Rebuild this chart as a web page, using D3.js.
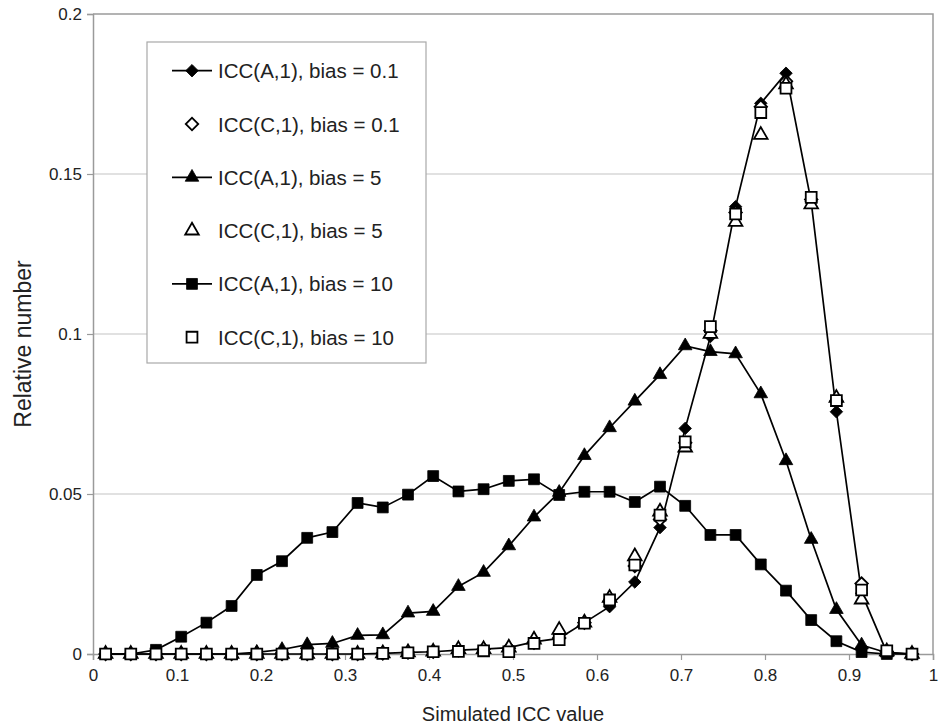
<!DOCTYPE html>
<html>
<head>
<meta charset="utf-8">
<script src="https://cdn.jsdelivr.net/npm/d3@7"></script>
<style>
  html, body { margin: 0; padding: 0; background: #fff; }
  svg text { font-family: "Liberation Sans", Arial, Helvetica, sans-serif; fill: #222; }
</style>
</head>
<body>
<svg id="chart" width="941" height="725"></svg>
<script>
// ---- data ----
const xValues = [0.015, 0.045, 0.075, 0.105, 0.135, 0.165, 0.195, 0.225, 0.255, 0.285, 0.315,
                 0.345, 0.375, 0.405, 0.435, 0.465, 0.495, 0.525, 0.555, 0.585, 0.615, 0.645,
                 0.675, 0.705, 0.735, 0.765, 0.795, 0.825, 0.855, 0.885, 0.915, 0.945, 0.975];

const iccA_bias01 = [0, 0, 0, 0, 0, 0, 0, 0, 0, 0, 0, 0.0002, 0.0005, 0.0007, 0.0012, 0.0015, 0.002,
                     0.0038, 0.0049, 0.0098, 0.0148, 0.0225, 0.0395, 0.0705, 0.0992, 0.1398, 0.1721,
                     0.1815, 0.1413, 0.0757, 0.019, 0.0005, 0];
const iccC_bias01 = [0, 0, 0, 0, 0, 0, 0, 0, 0, 0, 0, 0.0002, 0.0005, 0.0007, 0.0012, 0.0015, 0.0018,
                     0.0035, 0.005, 0.0098, 0.0165, 0.0275, 0.042, 0.066, 0.101, 0.138, 0.171,
                     0.179, 0.142, 0.079, 0.022, 0.0008, 0];
const iccA_bias5 = [0, 0, 0, 0, 0, 0, 0.0005, 0.0014, 0.0029, 0.0033, 0.0058, 0.006, 0.0128, 0.0133,
                    0.0211, 0.0255, 0.0338, 0.0428, 0.0505, 0.062, 0.0707, 0.079, 0.0873, 0.0963,
                    0.0945, 0.0938, 0.0813, 0.0604, 0.0358, 0.0139, 0.0028, 0.0004, 0];
const iccC_bias5 = [0, 0, 0, 0, 0, 0, 0, 0, 0, 0, 0, 0.0002, 0.0005, 0.0007, 0.0015, 0.0015, 0.002,
                    0.0045, 0.0075, 0.0098, 0.0175, 0.0305, 0.0445, 0.0645, 0.1, 0.135, 0.1622,
                    0.178, 0.1405, 0.08, 0.017, 0.0008, 0];
const iccA_bias10 = [0, 0, 0.0013, 0.0054, 0.0098, 0.015, 0.0247, 0.029, 0.0363, 0.0381, 0.0472,
                     0.0458, 0.0498, 0.0556, 0.0508, 0.0515, 0.0541, 0.0546, 0.0497, 0.0507, 0.0507,
                     0.0475, 0.0523, 0.0463, 0.0372, 0.0372, 0.028, 0.0198, 0.0106, 0.004, 0.0006, 0, 0];
const iccC_bias10 = [0, 0, 0, 0, 0, 0, 0, 0, 0, 0, 0, 0.0002, 0.0004, 0.0007, 0.0008, 0.001, 0.0007,
                     0.0033, 0.0045, 0.0096, 0.0169, 0.0278, 0.0434, 0.0663, 0.1023, 0.1375, 0.1692,
                     0.1768, 0.1427, 0.0792, 0.02, 0.001, 0];

const xTicks = [0, 0.1, 0.2, 0.3, 0.4, 0.5, 0.6, 0.7, 0.8, 0.9, 1];
const xTickLabels = ["0", "0.1", "0.2", "0.3", "0.4", "0.5", "0.6", "0.7", "0.8", "0.9", "1"];
const yTicks = [0, 0.05, 0.1, 0.15, 0.2];
const yTickLabels = ["0", "0.05", "0.1", "0.15", "0.2"];

const seriesNames = ["ICC(A,1), bias = 0.1", "ICC(C,1), bias = 0.1", "ICC(A,1), bias = 5",
                     "ICC(C,1), bias = 5", "ICC(A,1), bias = 10", "ICC(C,1), bias = 10"];
const seriesValues = [iccA_bias01, iccC_bias01, iccA_bias5, iccC_bias5, iccA_bias10, iccC_bias10];
const seriesShapes = ["diamond", "diamond", "triangle", "triangle", "square", "square"];
const seriesFilled = [true, false, true, false, true, false];
const seriesLined = [true, false, true, false, true, false];

// ---- layout ----
const svg = d3.select("#chart");
const L = 93, R = 933, T = 14, B = 654;
const x = d3.scaleLinear().domain([0, 1]).range([L, R]);
const y = d3.scaleLinear().domain([0, 0.2]).range([B, T]);
const axisGray = "#9a9a9a";

// gridlines
svg.append("g").selectAll("line").data(yTicks.filter(d => d > 0 && d < 0.2)).join("line")
  .attr("x1", L).attr("x2", R).attr("y1", d => y(d)).attr("y2", d => y(d))
  .attr("stroke", "#c4c4c4").attr("stroke-width", 1.2);

// plot border (top, right)
svg.append("path")
  .attr("d", `M${L},${T}H${R}V${B}`)
  .attr("fill", "none").attr("stroke", axisGray).attr("stroke-width", 1.5);

// y axis
const yAxis = d3.axisLeft(y).tickValues(yTicks)
  .tickFormat((d, i) => yTickLabels[i]).tickSize(6).tickPadding(5);
const gy = svg.append("g").attr("transform", `translate(${L},0)`).call(yAxis);
gy.select(".domain").attr("stroke", axisGray).attr("stroke-width", 1.5);
gy.selectAll(".tick line").attr("stroke", axisGray).attr("stroke-width", 1.2);
gy.selectAll(".tick text").style("font-size", "17px").attr("fill", "#222");

// x axis
const xAxis = d3.axisBottom(x).tickValues(xTicks)
  .tickFormat((d, i) => xTickLabels[i]).tickSize(6).tickPadding(9);
const gx = svg.append("g").attr("transform", `translate(0,${B})`).call(xAxis);
gx.select(".domain").attr("stroke", axisGray).attr("stroke-width", 1.5);
gx.selectAll(".tick line").attr("stroke", axisGray).attr("stroke-width", 1.2);
gx.selectAll(".tick text").style("font-size", "17px").attr("fill", "#222");

// axis titles
svg.append("text").attr("x", (L + R) / 2).attr("y", 721).attr("text-anchor", "middle")
  .style("font-size", "20px").text("Simulated ICC value");
svg.append("text").attr("transform", `translate(31,${(T + B) / 2 + 10}) rotate(-90)`)
  .attr("text-anchor", "middle").style("font-size", "23px").text("Relative number");

// symbols
function symbolPath(shape) {
  if (shape === "diamond") return d3.symbol().type(d3.symbolSquare).size(78)();
  if (shape === "triangle") return d3.symbol().type(d3.symbolTriangle).size(80)();
  return d3.symbol().type(d3.symbolSquare).size(118)();
}
function symbolRotate(shape) { return shape === "diamond" ? " rotate(45)" : ""; }

const line = d3.line().x(d => x(d[0])).y(d => y(d[1]));

seriesValues.forEach((vals, s) => {
  const pts = xValues.map((xv, i) => [xv, vals[i]]);
  const g = svg.append("g");
  if (seriesLined[s]) {
    g.append("path").datum(pts).attr("d", line)
      .attr("fill", "none").attr("stroke", "#000").attr("stroke-width", 1.7);
  }
  g.selectAll("path.m").data(pts).join("path").attr("class", "m")
    .attr("d", symbolPath(seriesShapes[s]))
    .attr("transform", d => `translate(${x(d[0])},${y(d[1])})${symbolRotate(seriesShapes[s])}`)
    .attr("fill", seriesFilled[s] ? "#000" : "#fff")
    .attr("stroke", "#000").attr("stroke-width", seriesFilled[s] ? 0.8 : 1.8);
});

// legend
const lg = svg.append("g");
lg.append("rect").attr("x", 147).attr("y", 42).attr("width", 279).attr("height", 321)
  .attr("fill", "#fff").attr("stroke", "#a8a8a8").attr("stroke-width", 1.2);
seriesNames.forEach((name, s) => {
  const cy = 70.7 + s * 53.3;
  if (seriesLined[s]) {
    lg.append("line").attr("x1", 172).attr("x2", 212).attr("y1", cy).attr("y2", cy)
      .attr("stroke", "#000").attr("stroke-width", 1.7);
  }
  lg.append("path").attr("d", symbolPath(seriesShapes[s]))
    .attr("transform", `translate(192,${cy})${symbolRotate(seriesShapes[s])}`)
    .attr("fill", seriesFilled[s] ? "#000" : "#fff")
    .attr("stroke", "#000").attr("stroke-width", seriesFilled[s] ? 0.8 : 1.8);
  lg.append("text").attr("x", 218).attr("y", cy + 7.5).style("font-size", "20.5px").text(name);
});
</script>
</body>
</html>
